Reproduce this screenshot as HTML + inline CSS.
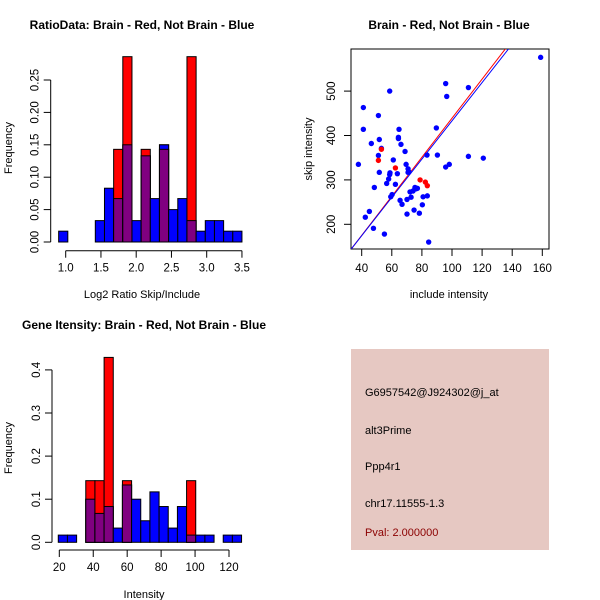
<!DOCTYPE html>
<html><head><meta charset="utf-8">
<style>
html,body{margin:0;padding:0;background:#fff;}
svg{display:block;font-family:"Liberation Sans",sans-serif;}
</style></head>
<body>
<svg id="c" width="600" height="600" viewBox="0 0 600 600" xmlns="http://www.w3.org/2000/svg">
<rect x="0" y="0" width="600" height="600" fill="#fff"/>
<g id="info">
<rect x="351" y="349" width="198" height="201" fill="#e6c8c2"/>
<text x="365" y="396" font-size="11" fill="#000">G6957542@J924302@j_at</text>
<text x="365" y="434" font-size="11" fill="#000">alt3Prime</text>
<text x="365" y="470" font-size="11" fill="#000">Ppp4r1</text>
<text x="365" y="507" font-size="11" fill="#000">chr17.11555-1.3</text>
<text x="365" y="536" font-size="11" fill="#8b0000">Pval: 2.000000</text>
</g>
</svg>
<script>
// ---- Histogram 1 data (Log2 ratio) ----
const h1Start = 0.9;
const h1Width = 0.13;
const h1Blue = [0.0167,0,0,0,0.033,0.083,0.067,0.15,0.033,0.133,0.067,0.15,0.05,0.067,0.033,0.0167,0.033,0.033,0.0167,0.0167];
const h1Red  = [0,0,0,0,0,0,0.143,0.286,0,0.143,0,0.143,0,0,0.286,0,0,0,0,0];
const h1XTicks = [1.0,1.5,2.0,2.5,3.0,3.5];
const h1YTicks = [0,0.05,0.10,0.15,0.20,0.25];
// ---- Histogram 2 data (Intensity) ----
const h2Start = 19.4;
const h2Width = 5.4;
const h2Blue = [0.0167,0.0167,0,0.1,0.067,0.083,0.033,0.133,0.1,0.05,0.117,0.083,0.033,0.083,0.0167,0.0167,0.0167,0,0.0167,0.0167];
const h2Red  = [0,0,0,0.143,0.143,0.429,0,0.143,0,0,0,0,0,0,0.143,0,0,0,0,0];
const h2XTicks = [20,40,60,80,100,120];
const h2YTicks = [0,0.1,0.2,0.3,0.4];
// ---- Scatter data ----
const blueX = [37.8,41.1,41.1,42.4,45.1,46.4,47.8,48.4,51.1,51.1,51.7,51.7,53.1,55.1,56.6,57.9,58.6,58.6,58.8,59.3,60.2,61.0,62.4,63.7,64.4,64.4,64.8,65.5,66.1,66.8,68.8,69.5,70.1,70.1,70.8,70.8,71.4,72.1,72.8,74.1,74.8,75.4,75.4,76.1,77.0,78.3,80.3,80.8,83.4,83.6,84.5,89.6,90.3,95.8,95.8,96.5,98.2,110.9,110.9,120.8,158.9];
const blueY = [335,463,414,216,229,382,191,283,445,355,391,317,371,178,292,302,312,500,316,262,267,345,290,314,396,393,414,254,380,245,364,335,256,223,317,325,318,273,261,275,232,280,283,280,281,225,244,262,356,264,160,417,356,329,517,488,335,508,353,349,576];
const redX = [51.1,53.1,62.4,78.8,82.3,83.6];
const redY = [344,369,327,300,295,287];
const scXTicks = [40,60,80,100,120,140,160];
const scYTicks = [200,300,400,500];
const lineRed = [4.40,-1.0];   // slope, intercept
const lineBlue = [4.31,2.0];

const NS="http://www.w3.org/2000/svg";
const svg=document.getElementById('c');
function el(tag,attrs,parent,text){const e=document.createElementNS(NS,tag);for(const k in attrs)e.setAttribute(k,attrs[k]);if(text!==undefined)e.textContent=text;(parent||svg).appendChild(e);return e;}
function grp(name){const g=el('g',{});


return g;}

function hist(cfg){
  const g=grp(cfg.name);
  const sx=v=>cfg.x0+(v-cfg.xv0)*cfg.xk;
  const sy=v=>cfg.y0-v*cfg.yk;
  cfg.blue.forEach((b,i)=>{
    const r=cfg.red[i];
    const xa=sx(cfg.start+i*cfg.width), xb=sx(cfg.start+(i+1)*cfg.width);
    const lo=Math.min(b,r);
    if(b>0){const e=el('rect',{x:xa,y:sy(b),width:xb-xa,height:sy(0)-sy(b),fill:'#0000ff',stroke:'#000','stroke-width':1},g);
      
      }
    if(r>0){const e=el('rect',{x:xa,y:sy(r),width:xb-xa,height:sy(0)-sy(r),fill:'#ff0000',stroke:'#000','stroke-width':1},g);
      
      }
    if(lo>0){
      if(b>r){el('rect',{x:xa,y:sy(b),width:xb-xa,height:sy(0)-sy(b),fill:'#0000ff',stroke:'#000','stroke-width':1},g);}
      const e=el('rect',{x:xa,y:sy(lo),width:xb-xa,height:sy(0)-sy(lo),fill:'#800080',stroke:'#000','stroke-width':1},g);
      
      }
  });
  const ax=cfg.xAxisY;
  const xt=cfg.xticks;
  el('line',{x1:sx(xt[0]),y1:ax,x2:sx(xt[xt.length-1]),y2:ax,stroke:'#000'},g);
  xt.forEach(t=>{el('line',{x1:sx(t),y1:ax,x2:sx(t),y2:ax+7,stroke:'#000'},g);
    el('text',{x:sx(t),y:ax+21,'font-size':11.5,'text-anchor':'middle'},g,cfg.xfmt(t));});
  const yx=cfg.yAxisX, yt=cfg.yticks;
  el('line',{x1:yx,y1:sy(yt[0]),x2:yx,y2:sy(yt[yt.length-1]),stroke:'#000'},g);
  yt.forEach(t=>{el('line',{x1:yx,y1:sy(t),x2:yx-7,y2:sy(t),stroke:'#000'},g);
    el('text',{x:yx-12,y:sy(t),'font-size':11.5,'text-anchor':'middle',transform:`rotate(-90 ${yx-12} ${sy(t)})`},g,cfg.yfmt(t));});
  el('text',{x:cfg.titleX,y:cfg.titleY,'font-size':12,'font-weight':'bold','text-anchor':'middle'},g,cfg.title);
  el('text',{x:cfg.titleX,y:cfg.xlabY,'font-size':11,'text-anchor':'middle'},g,cfg.xlab);
  el('text',{x:12,y:cfg.ylabY,'font-size':11,'text-anchor':'middle',transform:`rotate(-90 12 ${cfg.ylabY})`},g,'Frequency');
}

hist({name:'ratio-histogram',blue:h1Blue,red:h1Red,start:h1Start,width:h1Width,
  x0:65.7,xv0:1.0,xk:70.5,y0:242,yk:648,xAxisY:250.7,yAxisX:50.7,
  xticks:h1XTicks,yticks:h1YTicks,xfmt:t=>t.toFixed(1),yfmt:t=>t.toFixed(2),
  title:'RatioData: Brain - Red, Not Brain - Blue',titleX:142,titleY:29,xlab:'Log2 Ratio Skip/Include',xlabY:298,ylabY:148});

hist({name:'intensity-histogram',blue:h2Blue,red:h2Red,start:h2Start,width:h2Width,
  x0:59.3,xv0:20,xk:1.697,y0:542.3,yk:431,xAxisY:550,yAxisX:52,
  xticks:h2XTicks,yticks:h2YTicks,xfmt:t=>String(t),yfmt:t=>t.toFixed(1),
  title:'Gene Itensity: Brain - Red, Not Brain - Blue',titleX:144,titleY:329,xlab:'Intensity',xlabY:598,ylabY:448});

(function(){
  const g=grp('scatter-plot');
  const sx=v=>361.7+(v-40)*30.1/20;
  const sy=v=>224.3-(v-200)*0.444;
  el('rect',{x:351,y:49,width:198,height:200,fill:'none',stroke:'#000'},g);
  const cp=el('clipPath',{id:'scClip'},g);
  el('rect',{x:351,y:49,width:198,height:200},cp);
  const lg=el('g',{'clip-path':'url(#scClip)'},g);
  const xa=30, xb=170;
  [[lineRed,'#ff0000','red-fit-line'],[lineBlue,'#0000ff','blue-fit-line']].forEach(([p,c,n])=>{
    const e=el('line',{x1:sx(xa),y1:sy(p[0]*xa+p[1]),x2:sx(xb),y2:sy(p[0]*xb+p[1]),stroke:c,'stroke-width':1},lg);
    
    
  });
  blueX.forEach((x,i)=>{const e=el('circle',{cx:sx(x),cy:sy(blueY[i]),r:2.7,fill:'#0000ff'},g);
    
    });
  redX.forEach((x,i)=>{const e=el('circle',{cx:sx(x),cy:sy(redY[i]),r:2.7,fill:'#ff0000'},g);
    
    });
  scXTicks.forEach(t=>{el('line',{x1:sx(t),y1:249,x2:sx(t),y2:256,stroke:'#000'},g);
    el('text',{x:sx(t),y:272,'font-size':11.5,'text-anchor':'middle'},g,String(t));});
  scYTicks.forEach(t=>{el('line',{x1:351,y1:sy(t),x2:344,y2:sy(t),stroke:'#000'},g);
    el('text',{x:335,y:sy(t),'font-size':11.5,'text-anchor':'middle',transform:`rotate(-90 335 ${sy(t)})`},g,String(t));});
  el('text',{x:449,y:29,'font-size':12,'font-weight':'bold','text-anchor':'middle'},g,'Brain - Red, Not Brain - Blue');
  el('text',{x:449,y:298,'font-size':11,'text-anchor':'middle'},g,'include intensity');
  el('text',{x:312,y:149,'font-size':11,'text-anchor':'middle',transform:'rotate(-90 312 149)'},g,'skip intensity');
})();
</script>
</body></html>
